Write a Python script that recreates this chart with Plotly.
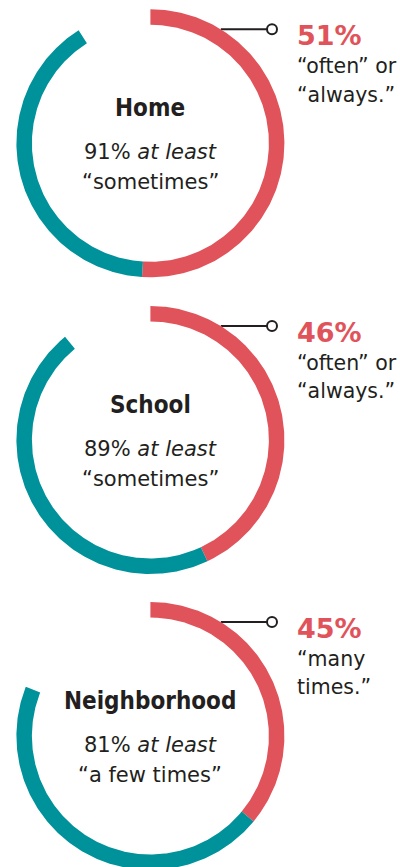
import numpy as np
import plotly.graph_objects as go

# ---- data ----
places = ["Home", "School", "Neighborhood"]
red_arc_pct = [51, 43, 36]          # length of the red arc as drawn (% of circle)
total_arc_pct = [91, 89, 81]        # red + teal arc (% of circle)
callout_values = ["51%", "46%", "45%"]
callout_line1 = ["“often” or", "“often” or", "“many"]
callout_line2 = ["“always.”", "“always.”", "times.”"]
center_line2 = ["“sometimes”", "“sometimes”", "“a few times”"]

# ---- styling / layout ----
RED = "#E1535A"
TEAL = "#00929A"
DARK = "#231F20"
W, H = 400, 867
CX = 150.4
CYS = [143.3, 440.0, 736.0]
R_OUT, R_IN = 134.0, 118.5
CALLOUT_DY = 114.0
CALLOUT_X = 272.0
TEXT_X = 296.0

REG = "DejaVu Sans, Roboto, sans-serif"
BOLD_COND = "DejaVu Sans Condensed, DejaVu Sans, Roboto, sans-serif"


def arc(cx, cy, pct0, pct1, n=240):
    t = np.radians(np.linspace(pct0, pct1, n) * 3.6)
    xo = cx + R_OUT * np.sin(t)
    yo = cy - R_OUT * np.cos(t)
    xi = cx + R_IN * np.sin(t[::-1])
    yi = cy - R_IN * np.cos(t[::-1])
    x = np.concatenate([xo, xi, xo[:1]])
    y = np.concatenate([yo, yi, yo[:1]])
    return x, y


fig = go.Figure()
annotations = []


def add_text(x, baseline, text, size, family, color=DARK, xanchor="center", weight="normal"):
    annotations.append(dict(
        x=x, y=baseline - 0.35 * size, xref="x", yref="y",
        text=text, showarrow=False, xanchor=xanchor, yanchor="middle",
        font=dict(size=size, family=family, color=color, weight=weight),
        borderpad=0,
    ))


for i, place in enumerate(places):
    cy = CYS[i]
    # callout line (behind the ring)
    ly = cy - CALLOUT_DY
    x_edge = CX + np.sqrt(R_OUT ** 2 - CALLOUT_DY ** 2)
    fig.add_trace(go.Scatter(x=[x_edge, CALLOUT_X], y=[ly, ly], mode="lines",
                             line=dict(color=DARK, width=2), hoverinfo="skip"))
    fig.add_trace(go.Scatter(x=[CALLOUT_X], y=[ly], mode="markers",
                             marker=dict(symbol="circle", size=10, color="white",
                                         line=dict(color=DARK, width=2)),
                             hoverinfo="skip"))
    # red arc
    x, y = arc(CX, cy, 0, red_arc_pct[i])
    fig.add_trace(go.Scatter(x=x, y=y, mode="lines", fill="toself", fillcolor=RED,
                             line=dict(width=0, color=RED), hoverinfo="skip"))
    # teal arc
    x, y = arc(CX, cy, red_arc_pct[i], total_arc_pct[i])
    fig.add_trace(go.Scatter(x=x, y=y, mode="lines", fill="toself", fillcolor=TEAL,
                             line=dict(width=0, color=TEAL), hoverinfo="skip"))

    # centre texts
    add_text(CX, cy - 26.5, f"<b>{place}</b>", 24, BOLD_COND)
    add_text(CX, cy + 16, f"{total_arc_pct[i]}% <i>at least</i>", 21, REG)
    add_text(CX, cy + 46, center_line2[i], 21, REG)

    # callout texts
    add_text(TEXT_X, cy - 98, f"<b>{callout_values[i]}</b>", 27, REG, color=RED, xanchor="left")
    add_text(TEXT_X, cy - 70, callout_line1[i], 20.5, REG, xanchor="left")
    add_text(TEXT_X, cy - 41.5, callout_line2[i], 20.5, REG, xanchor="left")

fig.update_layout(
    width=W, height=H,
    margin=dict(l=0, r=0, t=0, b=0),
    paper_bgcolor="white", plot_bgcolor="white",
    showlegend=False, hovermode=False,
    xaxis=dict(range=[0, W], visible=False, fixedrange=True),
    yaxis=dict(range=[H, 0], visible=False, fixedrange=True),
    annotations=annotations,
)

fig.write_html("out.html", config={"displayModeBar": False})
